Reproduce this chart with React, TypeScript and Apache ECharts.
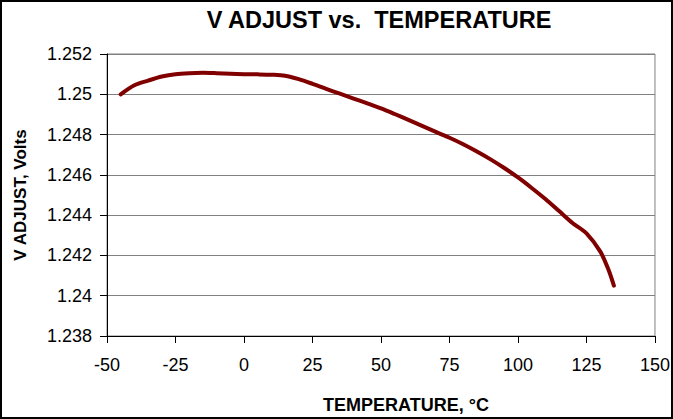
import React, { useEffect, useRef } from "react";
import * as echarts from "echarts";

const temps = [-45, -40, -35, -30, -25, -20, -15, -10, -5, 0, 5, 10, 15, 20, 25, 30, 35, 40, 45, 50, 55, 60, 65, 70, 75, 80, 85, 90, 95, 100, 105, 110, 115, 120, 125, 130, 133, 135];
const volts = [1.25, 1.25045, 1.25068, 1.25088, 1.251, 1.25105, 1.25107, 1.25105, 1.25102, 1.251, 1.25099, 1.25097, 1.25092, 1.25075, 1.25052, 1.25027, 1.25003, 1.24979, 1.24955, 1.2493, 1.24902, 1.24873, 1.24843, 1.24813, 1.24784, 1.24752, 1.24716, 1.24677, 1.24634, 1.24587, 1.24535, 1.2448, 1.2442, 1.2436, 1.2431, 1.2422, 1.2413, 1.2405];

const title = "V ADJUST vs.  TEMPERATURE";
const xName = "TEMPERATURE, °C";
const yName = "V ADJUST, Volts";

export default function App() {
  const ref = useRef<HTMLDivElement>(null);
  useEffect(() => {
    const chart = echarts.init(ref.current!, null, { renderer: "svg" });
    const font = "'Liberation Sans', Arial, sans-serif";
    chart.setOption({
      animation: false,
      title: {
        text: title,
        left: 374,
        top: 3,
        textAlign: "center",
        textStyle: { fontFamily: font, fontSize: 23.5, fontWeight: "bold", color: "#000" },
      },
      grid: {
        left: 107,
        right: 16,
        top: 54,
        bottom: 82,
        show: true,
        borderColor: "#808080",
        borderWidth: 1,
      },
      xAxis: {
        type: "value",
        min: -50,
        max: 150,
        interval: 25,
        name: xName,
        nameLocation: "middle",
        nameGap: 60,
        nameTextStyle: {
          fontFamily: font,
          fontSize: 18,
          fontWeight: "bold",
          color: "#000",
          padding: [0, 0, 0, 50],
        },
        axisLine: { show: true, onZero: false, lineStyle: { color: "#000", width: 1 } },
        axisTick: { show: true, inside: false, length: 7, lineStyle: { color: "#000" } },
        axisLabel: { fontFamily: font, fontSize: 18, color: "#000", margin: 20 },
        splitLine: { show: false },
      },
      yAxis: {
        type: "value",
        min: 1.238,
        max: 1.252,
        interval: 0.002,
        name: yName,
        nameLocation: "middle",
        nameGap: 78,
        nameRotate: 90,
        nameTextStyle: { fontFamily: font, fontSize: 17, fontWeight: "bold", color: "#000" },
        axisLine: { show: true, onZero: false, lineStyle: { color: "#000", width: 1 } },
        axisTick: { show: true, inside: false, length: 7, lineStyle: { color: "#000" } },
        axisLabel: {
          fontFamily: font,
          fontSize: 18,
          color: "#000",
          margin: 15,
          formatter: (v: number) => String(parseFloat(v.toFixed(3))),
        },
        splitLine: { show: true, lineStyle: { color: "#808080", width: 1 } },
      },
      series: [
        {
          type: "line",
          data: temps.map((t, i) => [t, volts[i]]),
          smooth: 0.3,
          showSymbol: false,
          lineStyle: { color: "#800000", width: 4, cap: "round", join: "round" },
        },
      ],
    });
    return () => chart.dispose();
  }, []);
  return (
    <div
      style={{
        position: "absolute",
        left: 0,
        top: 0,
        width: 673,
        height: 419,
        boxSizing: "border-box",
        border: "2px solid #000",
        background: "#fff",
      }}
    >
      <div ref={ref} style={{ position: "absolute", left: -2, top: -2, width: 673, height: 419 }} />
    </div>
  );
}
